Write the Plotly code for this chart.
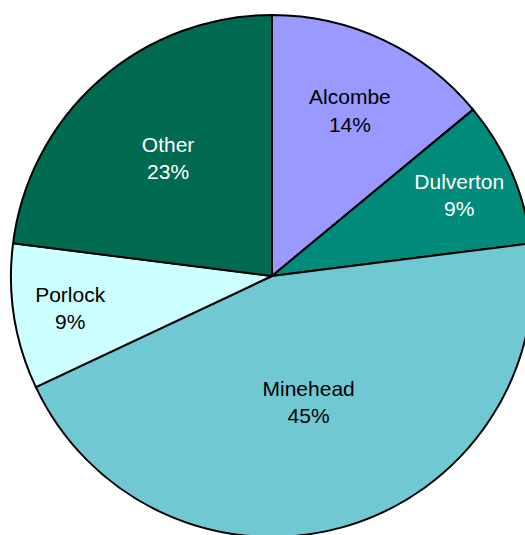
import plotly.graph_objects as go

# share of visitors by town
towns = ["Alcombe", "Dulverton", "Minehead", "Porlock", "Other"]
shares = [14, 9, 45, 9, 23]
slice_colors = ["#9999FF", "#008B7A", "#70C9D2", "#CCFFFF", "#006B50"]
label_colors = ["black", "white", "black", "black", "white"]

W, H = 545, 555  # a bit bigger than the window so the pie runs off the right/bottom

fig = go.Figure()
fig.add_trace(go.Pie(
    labels=towns,
    values=shares,
    sort=False,
    direction="clockwise",
    rotation=0,
    marker=dict(colors=slice_colors, line=dict(color="black", width=2)),
    texttemplate="%{label}<br>%{percent:.0%}",
    textposition="inside",
    insidetextorientation="horizontal",
    insidetextfont=dict(family="Liberation Sans, Arial, sans-serif", size=21, color=label_colors),
    hoverinfo="label+percent",
    showlegend=False,
    domain=dict(x=[11 / W, 533 / W], y=[(H - 537) / H, (H - 15) / H]),
))

fig.update_layout(
    width=W, height=H,
    margin=dict(l=0, r=0, t=0, b=0),
    paper_bgcolor="white",
    plot_bgcolor="white",
)

fig.write_html("out.html", config={"displayModeBar": False},
               post_script="document.body.style.margin='0';document.body.style.overflow='hidden';")
